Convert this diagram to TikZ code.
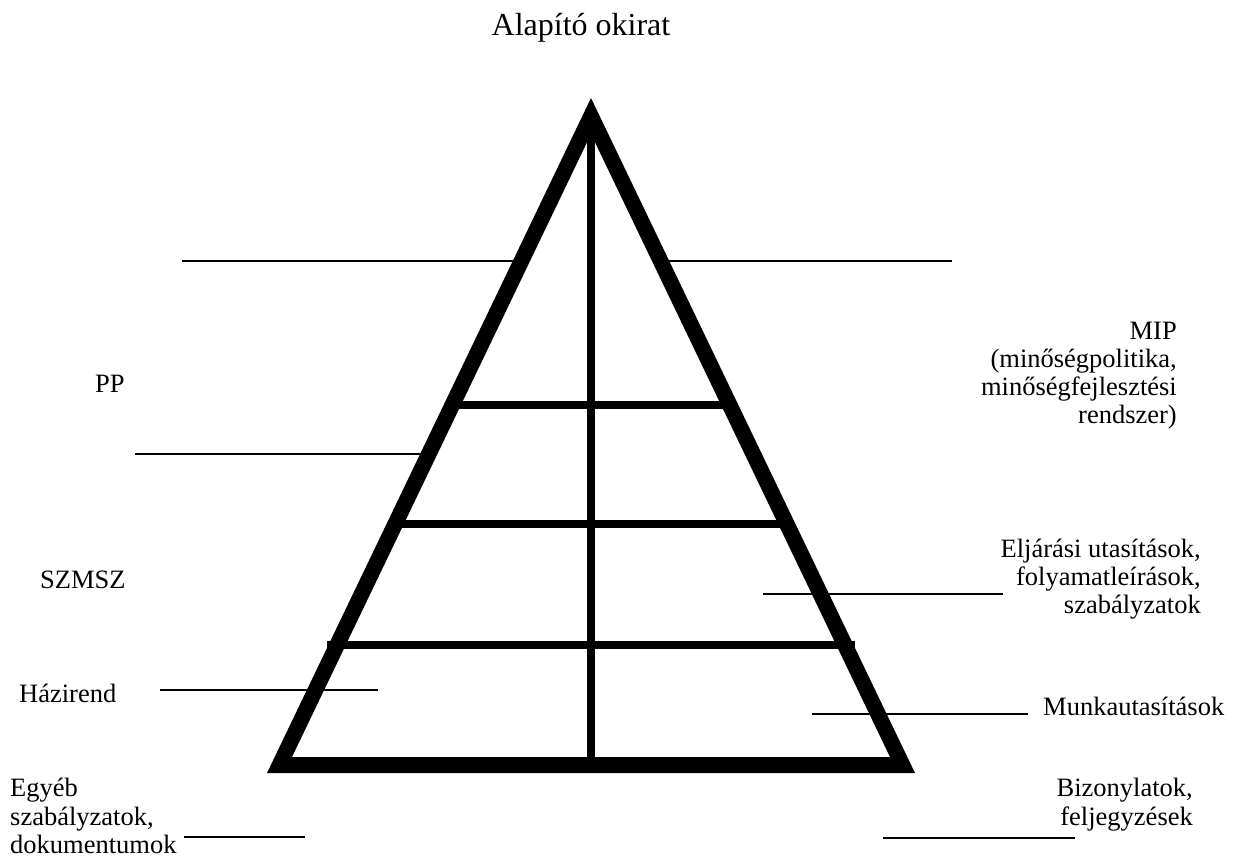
\documentclass[tikz,border=0pt]{standalone}
\usepackage{fontspec}
\setmainfont{Liberation Serif}
\begin{document}
\begin{tikzpicture}[x=1pt,y=-1pt,
  thinline/.style={line width=1.5pt},
  bar/.style={line width=7.5pt},
  lbl/.style={inner sep=0pt, font=\fontsize{26.5}{28}\selectfont},
  ttl/.style={inner sep=0pt, font=\fontsize{32}{34}\selectfont}]
\useasboundingbox (0,0) rectangle (1243,859);
% pyramid frame
\fill[even odd rule] (591,98) -- (267,773) -- (915,773) -- cycle
                     (591,134) -- (292,757) -- (890,757) -- cycle;
% inner bars
\draw[bar] (591,110) -- (591,762);
\draw[bar] (455,405) -- (727,405);
\draw[bar] (396,524) -- (786,524);
\draw[bar] (327,645) -- (855,645);
% thin pointer lines
\draw[thinline] (182,261) -- (513,261);
\draw[thinline] (668,261) -- (952,261);
\draw[thinline] (135,454) -- (421,454);
\draw[thinline] (763,594) -- (1003,594);
\draw[thinline] (160,690) -- (378,690);
\draw[thinline] (812,714) -- (1028,714);
\draw[thinline] (184,837) -- (305,837);
\draw[thinline] (883,838) -- (1075,838);
% texts
\node[ttl, anchor=base] (title) at (581,36) {Alapító okirat};
\node[lbl, anchor=base west] (pp) at (95,392) {PP};
\node[lbl, anchor=base west] (szmsz) at (40,588) {SZMSZ};
\node[lbl, anchor=base west] (hazirend) at (19,702) {Házirend};
\node[lbl, anchor=base west] (egyeb1) at (10,796) {Egyéb};
\node[lbl, anchor=base west] (egyeb2) at (10,825) {szabályzatok,};
\node[lbl, anchor=base west] (egyeb3) at (10,853) {dokumentumok};
\node[lbl, anchor=base east] (mip1) at (1177,339) {MIP};
\node[lbl, anchor=base east] (mip2) at (1177,367) {(minőségpolitika,};
\node[lbl, anchor=base east] (mip3) at (1177,395) {minőségfejlesztési};
\node[lbl, anchor=base east] (mip4) at (1177,423) {rendszer)};
\node[lbl, anchor=base east] (elj1) at (1201,557) {Eljárási utasítások,};
\node[lbl, anchor=base east] (elj2) at (1201,585) {folyamatleírások,};
\node[lbl, anchor=base east] (elj3) at (1201,613) {szabályzatok};
\node[lbl, anchor=base west] (munka) at (1043,715) {Munkautasítások};
\node[lbl, anchor=base east] (biz1) at (1193,796) {Bizonylatok,};
\node[lbl, anchor=base east] (biz2) at (1193,825) {feljegyzések};
\end{tikzpicture}
\end{document}
